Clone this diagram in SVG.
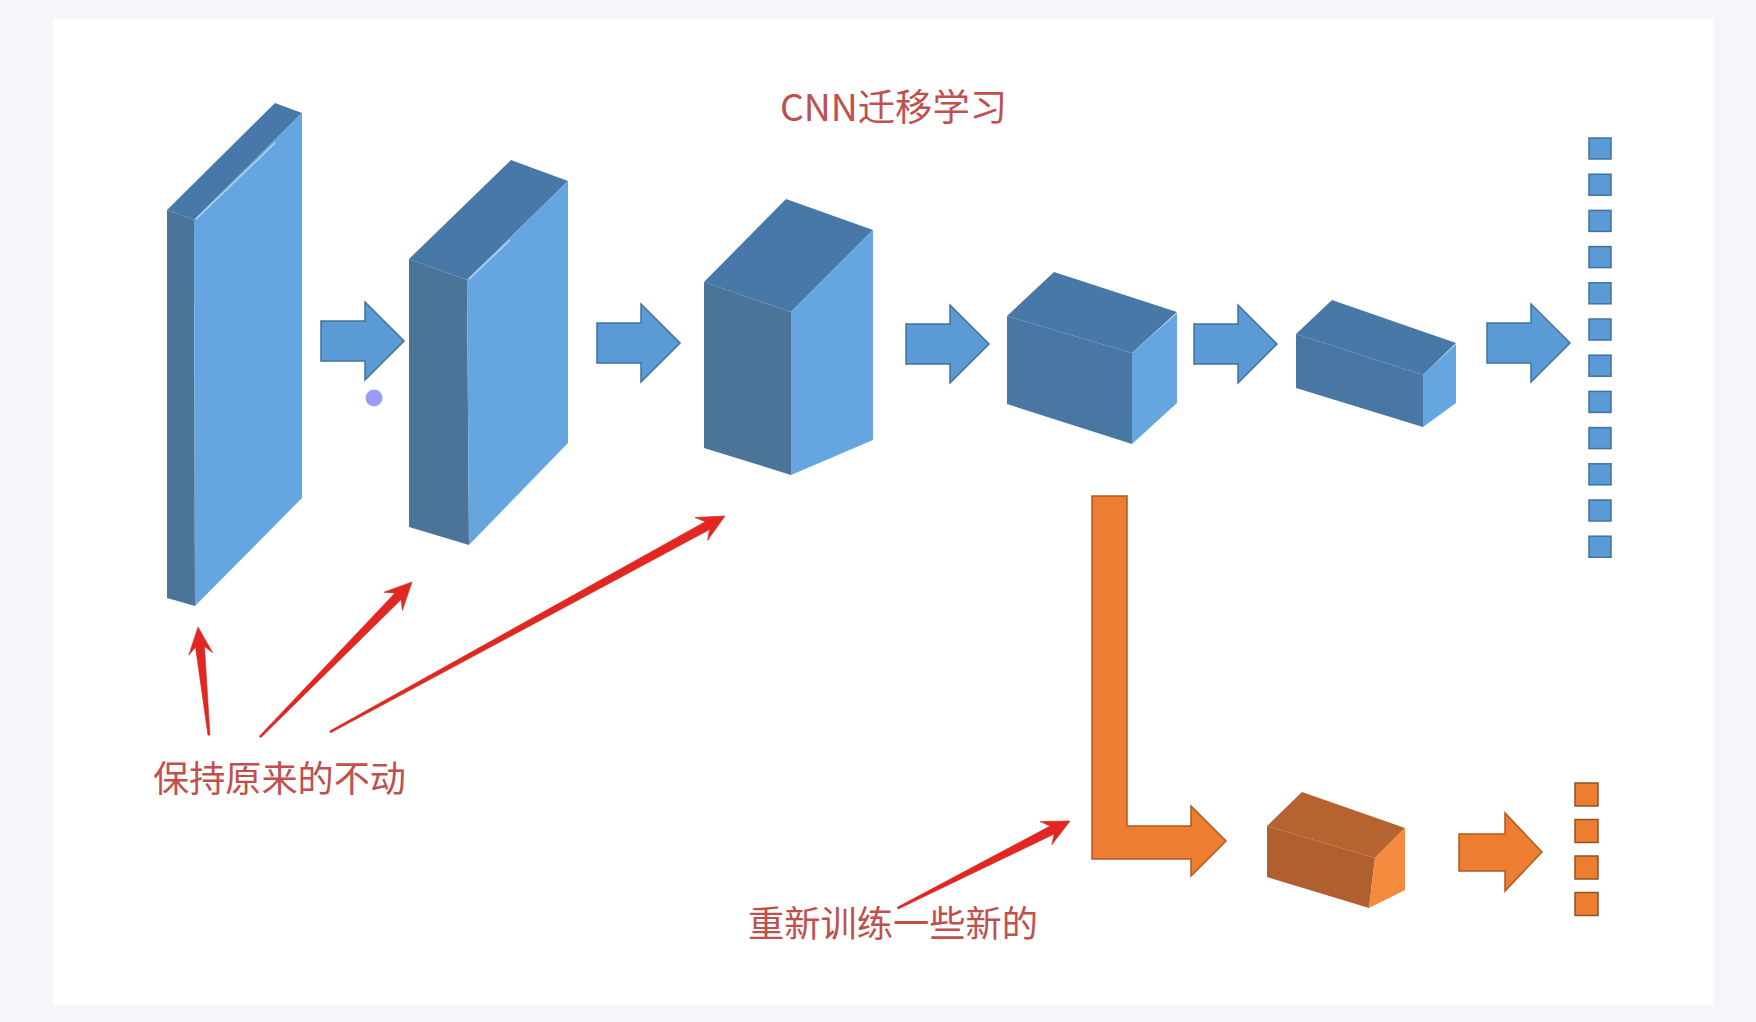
<svg xmlns="http://www.w3.org/2000/svg" width="1756" height="1022" viewBox="0 0 1756 1022">
  <defs>
    <style>
      .front { fill: #66a6e0; }
      .side { fill: #4c7499; }
      .top { fill: #4778a8; }
      .hl { stroke: #b3d3f2; stroke-width: 1.5; fill: none; }
      .barrow { fill: #5b9bd5; stroke: #41719c; stroke-width: 1.5; }
      .bsq { fill: #5b9bd5; stroke: #41719c; stroke-width: 1.5; }
      .oarrow { fill: #ed7d31; stroke: #ae5a21; stroke-width: 1.5; }
      .osq { fill: #ed7d31; stroke: #8f5327; stroke-width: 1.5; }
      .ofront { fill: #f58a3e; }
      .oside { fill: #b0602e; }
      .otop { fill: #b5632f; }
      .red { fill: #e32620; stroke: #c9302a; stroke-width: 0.6; }
      .label { font-family: "Noto Sans CJK SC", "Noto Sans", sans-serif; fill: #c0504d; }
    </style>
    <path id="ba" d="M0,-20 H44 V-39 L83,0 L44,39 V20 H0 Z"/>
  </defs>

  <rect x="0" y="0" width="1756" height="1022" fill="#f4f6f9"/>
  <rect x="53" y="18" width="1661" height="988" fill="#ffffff"/>

  <text id="title" class="label" x="780" y="121" font-size="37" textLength="227" lengthAdjust="spacingAndGlyphs" fill="#c9524f">CNN迁移学习</text>

  <g id="layer1">
    <polygon class="top" points="167,210 275,103 302,113 194,220"/>
    <polygon class="side" points="167,210 194,220 195,606 167,598"/>
    <polygon class="front" points="194,220 302,113 302,498 195,606"/>
    <line class="hl" x1="196" y1="219" x2="275" y2="143"/>
  </g>

  <g id="layer2">
    <polygon class="top" points="409,259 511,160 568,181 467,280"/>
    <polygon class="side" points="409,259 467,280 469,545 409,527"/>
    <polygon class="front" points="467,280 568,181 568,443 469,545"/>
    <line class="hl" x1="469" y1="279" x2="510" y2="240"/>
  </g>

  <g id="layer3">
    <polygon class="top" points="704,282 786,199 873,230 791,312"/>
    <polygon class="side" points="704,282 791,312 791,475 704,448"/>
    <polygon class="front" points="791,312 873,230 873,440 791,475"/>
  </g>

  <g id="layer4">
    <polygon class="top" points="1007,316 1054,272 1177,312 1132,353"/>
    <polygon class="side" style="fill:#4977a4" points="1007,316 1132,353 1132,444 1007,404"/>
    <polygon class="front" points="1132,353 1177,313 1177,403 1132,444"/>
  </g>

  <g id="layer5">
    <polygon class="top" points="1296,334 1332,300 1456,343 1423,375"/>
    <polygon class="side" style="fill:#4977a4" points="1296,334 1423,375 1423,427 1296,388"/>
    <polygon class="front" points="1423,375 1456,344 1456,403 1423,427"/>
  </g>

  <g id="output-blue">
    <rect class="bsq" x="1589" y="138" width="22" height="21"/>
    <rect class="bsq" x="1589" y="174.2" width="22" height="21"/>
    <rect class="bsq" x="1589" y="210.4" width="22" height="21"/>
    <rect class="bsq" x="1589" y="246.6" width="22" height="21"/>
    <rect class="bsq" x="1589" y="282.8" width="22" height="21"/>
    <rect class="bsq" x="1589" y="319" width="22" height="21"/>
    <rect class="bsq" x="1589" y="355.2" width="22" height="21"/>
    <rect class="bsq" x="1589" y="391.4" width="22" height="21"/>
    <rect class="bsq" x="1589" y="427.6" width="22" height="21"/>
    <rect class="bsq" x="1589" y="463.8" width="22" height="21"/>
    <rect class="bsq" x="1589" y="500" width="22" height="21"/>
    <rect class="bsq" x="1589" y="536.2" width="22" height="21"/>
  </g>

  <g id="new-layer">
    <polygon class="otop" points="1267,826 1302,792 1405,828 1375,858"/>
    <polygon class="oside" points="1267,826 1375,858 1369,908 1267,877"/>
    <polygon class="ofront" points="1375,858 1405,828 1405,890 1369,908"/>
  </g>

  <g id="output-orange">
    <rect class="osq" x="1575" y="783" width="23" height="23"/>
    <rect class="osq" x="1575" y="819.5" width="23" height="23"/>
    <rect class="osq" x="1575" y="856" width="23" height="23"/>
    <rect class="osq" x="1575" y="892.5" width="23" height="23"/>
  </g>

  <circle id="dot" cx="374" cy="398" r="8.5" fill="#9b9bff"/>

  <g id="label-keep">
    <text class="label" x="153" y="792" font-size="36" textLength="253" lengthAdjust="spacingAndGlyphs">保持原来的不动</text>
  </g>
  <g id="label-retrain">
    <text class="label" x="748" y="937" font-size="36" textLength="290" lengthAdjust="spacingAndGlyphs">重新训练一些新的</text>
  </g>

  <g id="connectors">
    <use href="#ba" class="barrow" transform="translate(321,341)"/>
    <use href="#ba" class="barrow" transform="translate(597,343)"/>
    <use href="#ba" class="barrow" transform="translate(906,344)"/>
    <use href="#ba" class="barrow" transform="translate(1194,344)"/>
    <use href="#ba" class="barrow" transform="translate(1487,343)"/>
    <path class="oarrow" d="M1092,496 H1127 V826 H1191 V806 L1226,841 L1191,876 V859 H1092 Z"/>
    <path class="oarrow" d="M1459,834 H1505 V813 L1542,852 L1505,891 V871 H1459 Z"/>
    <polygon class="red" transform="translate(198,627) rotate(-95.8)" points="-108.6,-1 -20,-4.5 -27,-12 0,0 -27,12 -20,4.5 -108.6,1"/>
    <polygon class="red" transform="translate(412,582) rotate(-45.56)" points="-217,-1 -20,-4.5 -27,-13 0,0 -27,13 -20,4.5 -217,1"/>
    <polygon class="red" transform="translate(725,516) rotate(-28.67)" points="-450,-1 -20,-4.5 -27,-13 0,0 -27,13 -20,4.5 -450,1"/>
    <polygon class="red" transform="translate(1070,821) rotate(-26.83)" points="-193,-1 -20,-4.5 -27,-13 0,0 -27,13 -20,4.5 -193,1"/>
  </g>
</svg>
